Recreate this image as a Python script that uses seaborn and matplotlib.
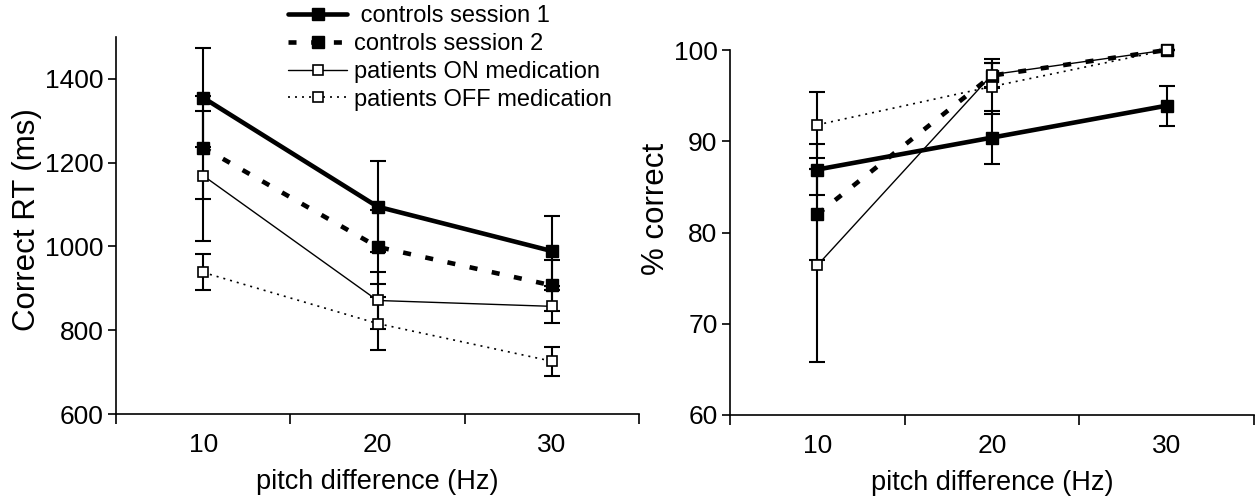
import numpy as np
import pandas as pd
import matplotlib
matplotlib.use('Agg')
import matplotlib.pyplot as plt
import seaborn as sns

# ---------------- data ----------------
pitch_labels = ['10', '20', '30']
series_names = [' controls session 1', 'controls session 2',
                'patients ON medication', 'patients OFF medication']

# Correct RT (ms)
rt_ctrl_s1 = [1355, 1095, 989]
rt_ctrl_s1_err = [118, 108, 84]
rt_ctrl_s2 = [1236, 999, 907]
rt_ctrl_s2_err = [123, 88, 60]
rt_pat_on = [1169, 871, 857]
rt_pat_on_err = [155, 68, 40]
rt_pat_off = [938, 816, 726]
rt_pat_off_err = [43, 63, 35]

# % correct
pc_ctrl_s1 = [86.9, 90.4, 93.9]
pc_ctrl_s1_err = [2.8, 2.9, 2.2]
pc_ctrl_s2 = [82.0, 97.2, 100.0]
pc_ctrl_s2_err = [5.0, 1.4, 0.0]
pc_pat_on = [76.4, 97.3, 100.0]
pc_pat_on_err = [10.6, 1.3, 0.0]
pc_pat_off = [91.8, 96.0, 100.0]
pc_pat_off_err = [3.6, 3.0, 0.0]

# ---------------- style ----------------
sns.set_style('ticks')
plt.rcParams['font.family'] = ['Liberation Sans', 'DejaVu Sans']
plt.rcParams['axes.linewidth'] = 1.2
for k in ('text.color', 'axes.labelcolor', 'xtick.color', 'ytick.color',
          'axes.edgecolor'):
    plt.rcParams[k] = 'black'

styles = [
    dict(linewidth=3.3, linestyle='-', marker='s', markersize=8,
         markerfacecolor='black', markeredgecolor='black', markeredgewidth=1),
    dict(linewidth=3.3, linestyle=(0, (1.75, 3.2)), marker='s', markersize=8,
         markerfacecolor='black', markeredgecolor='black', markeredgewidth=1),
    dict(linewidth=1.0, linestyle='-', marker='s', markersize=7.5,
         markerfacecolor='white', markeredgecolor='black', markeredgewidth=1.2),
    dict(linewidth=1.2, linestyle=(0, (1.2, 3.0)), marker='s', markersize=7.5,
         markerfacecolor='white', markeredgecolor='black', markeredgewidth=1.2),
]

fig = plt.figure(figsize=(12.55, 4.99), dpi=100)
ax1 = fig.add_axes([116 / 1255, 1 - 414 / 499, 523 / 1255, 377 / 499])
ax2 = fig.add_axes([730 / 1255, 1 - 415 / 499, 524 / 1255, 365 / 499])

xpos = np.arange(len(pitch_labels))


def draw(ax, vals_list, errs_list):
    for name, vals, errs, st in zip(series_names, vals_list, errs_list, styles):
        df = pd.DataFrame({'x': xpos, 'y': vals})
        ax.errorbar(df['x'], df['y'], yerr=errs, fmt='none', ecolor='black',
                    elinewidth=1.5, capsize=6, capthick=1.5, zorder=2,
                    clip_on=False)
        sns.lineplot(data=df, x='x', y='y', ax=ax, color='black', label=name,
                     legend=False, errorbar=None, zorder=3, clip_on=False, **st)


draw(ax1, [rt_ctrl_s1, rt_ctrl_s2, rt_pat_on, rt_pat_off],
     [rt_ctrl_s1_err, rt_ctrl_s2_err, rt_pat_on_err, rt_pat_off_err])
draw(ax2, [pc_ctrl_s1, pc_ctrl_s2, pc_pat_on, pc_pat_off],
     [pc_ctrl_s1_err, pc_ctrl_s2_err, pc_pat_on_err, pc_pat_off_err])

tick_fs = 19
for ax in (ax1, ax2):
    sns.despine(ax=ax)
    ax.set_xlim(-0.5, 2.5)
    ax.set_xticks(xpos)
    ax.set_xticklabels(pitch_labels)
    ax.set_xticks([-0.5, 0.5, 1.5, 2.5], minor=True)
    ax.tick_params(axis='x', which='major', length=0, pad=14, labelsize=tick_fs,
                   labelcolor='black')
    ax.tick_params(axis='x', which='minor', length=7, width=1.2, direction='out',
                   color='black')
    ax.tick_params(axis='y', which='major', length=6, width=1.2, direction='out',
                   pad=3, labelsize=tick_fs, color='black', labelcolor='black')
    ax.set_xlabel('pitch difference (Hz)', fontsize=19.5, labelpad=8, color='black')
    for sp in ax.spines.values():
        sp.set_color('black')
    ax.set_facecolor('none')

ax1.set_ylim(600, 1500)
ax1.set_yticks([600, 800, 1000, 1200, 1400])
ax1.set_ylabel('Correct RT (ms)', fontsize=22.5, labelpad=2, color='black')
ax1.yaxis.label.set_y(0.515)

ax2.set_ylim(60, 100)
ax2.set_yticks([60, 70, 80, 90, 100])
ax2.set_ylabel('% correct', fontsize=22.5, labelpad=2, color='black')
ax2.yaxis.label.set_y(0.564)

handles, labels = ax1.get_legend_handles_labels()
leg = fig.legend(handles, labels, loc='upper left',
                 bbox_to_anchor=(288 / 1255, 1 - 5 / 499),
                 frameon=False, fontsize=17, handlelength=2.5, handletextpad=0.3,
                 labelspacing=0.25, numpoints=1, borderaxespad=0, borderpad=0)
for t in leg.get_texts():
    t.set_color('black')

fig.savefig('out.png', dpi=100)
